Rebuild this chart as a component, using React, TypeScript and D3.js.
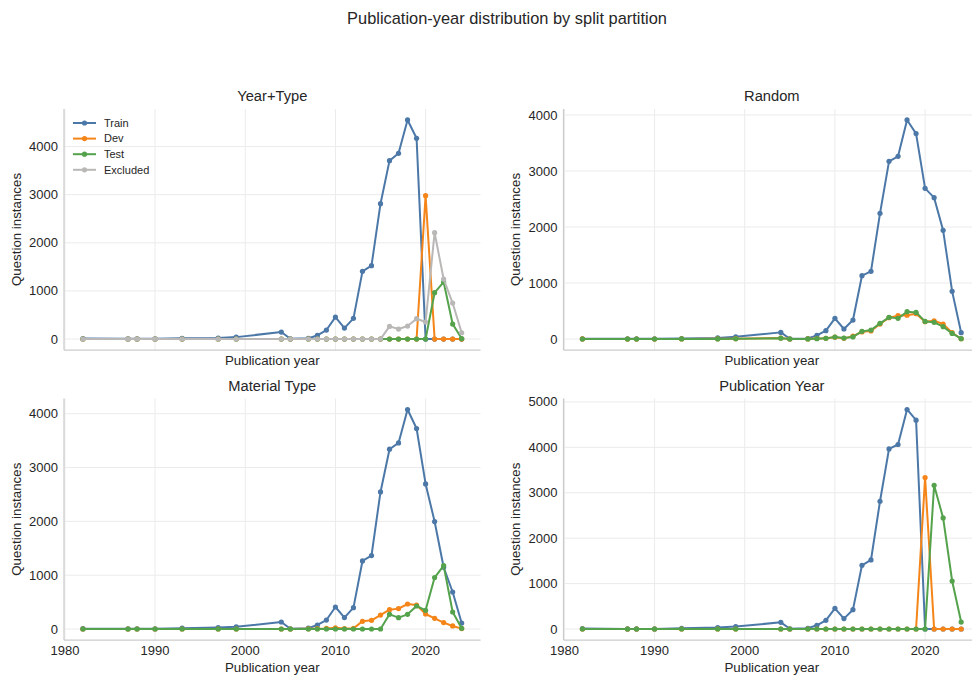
import React, { useRef, useEffect } from 'react';
import * as d3 from 'd3';

const years = [1982, 1987, 1988, 1990, 1993, 1997, 1999, 2004, 2005, 2007, 2008, 2009, 2010, 2011, 2012, 2013, 2014, 2015, 2016, 2017, 2018, 2019, 2020, 2021, 2022, 2023, 2024];
const xTicks = [1980, 1990, 2000, 2010, 2020];
const seriesNames = ['Train', 'Dev', 'Test', 'Excluded'];
const seriesColors = ['#4c78a8', '#f58518', '#54a24b', '#bab8b6'];

// Year+Type split
const ytTrain = [10, 5, 5, 5, 15, 20, 40, 145, 5, 15, 75, 187, 457, 228, 430, 1407, 1524, 2813, 3707, 3860, 4553, 4172, 0, 0, 0, 0, 0];
const ytDev = [0, 0, 0, 0, 0, 0, 0, 0, 0, 0, 0, 0, 0, 0, 0, 0, 0, 0, 0, 0, 0, 0, 2980, 0, 0, 0, 0];
const ytTest = [0, 0, 0, 0, 0, 0, 0, 0, 0, 0, 0, 0, 0, 0, 0, 0, 0, 0, 0, 0, 0, 0, 0, 963, 1185, 312, 10];
const ytExcluded = [0, 0, 0, 0, 0, 0, 0, 0, 0, 0, 0, 0, 0, 0, 0, 0, 0, 0, 263, 208, 270, 423, 353, 2210, 1247, 748, 131];

// Random split
const rndTrain = [5, 5, 5, 5, 10, 20, 40, 119, 5, 10, 65, 149, 369, 179, 339, 1131, 1208, 2244, 3173, 3262, 3911, 3667, 2690, 2524, 1940, 851, 113];
const rndDev = [2, 0, 0, 0, 3, 4, 6, 18, 0, 3, 10, 14, 34, 12, 52, 128, 145, 268, 381, 417, 425, 452, 309, 327, 268, 113, 5];
const rndTest = [1, 1, 1, 1, 2, 3, 5, 15, 1, 2, 6, 12, 36, 18, 38, 137, 161, 280, 387, 369, 488, 476, 315, 298, 220, 101, 6];

// Material Type split
const matTrain = [7, 5, 5, 5, 15, 28, 40, 130, 5, 15, 75, 167, 409, 212, 397, 1264, 1364, 2546, 3340, 3457, 4078, 3725, 2695, 1996, 1147, 688, 111];
const matDev = [0, 0, 0, 0, 0, 0, 0, 0, 0, 3, 6, 12, 22, 8, 12, 143, 161, 260, 360, 379, 465, 446, 279, 199, 119, 57, 8];
const matTest = [0, 0, 0, 0, 0, 0, 0, 0, 0, 0, 0, 0, 0, 0, 0, 0, 0, 0, 273, 211, 273, 428, 347, 956, 1178, 316, 13];

// Publication Year split
const pyTrain = [9, 2, 2, 2, 16, 31, 53, 147, 5, 16, 82, 192, 455, 229, 426, 1403, 1520, 2813, 3965, 4062, 4833, 4597, 0, 0, 0, 0, 0];
const pyDev = [0, 0, 0, 0, 0, 0, 0, 0, 0, 0, 0, 0, 0, 0, 0, 0, 0, 0, 0, 0, 0, 0, 3335, 0, 0, 0, 0];
const pyTest = [0, 0, 0, 0, 0, 0, 0, 0, 0, 0, 0, 0, 0, 0, 0, 0, 0, 0, 0, 0, 0, 0, 0, 3165, 2445, 1057, 154];

const panels = [
  { title: 'Year+Type', series: [ytTrain, ytDev, ytTest, ytExcluded], col: 0, row: 0, legend: true, xLabels: false },
  { title: 'Random', series: [rndTrain, rndDev, rndTest], col: 1, row: 0, legend: false, xLabels: false },
  { title: 'Material Type', series: [matTrain, matDev, matTest], col: 0, row: 1, legend: false, xLabels: true },
  { title: 'Publication Year', series: [pyTrain, pyDev, pyTest], col: 1, row: 1, legend: false, xLabels: true },
];

const width = 972;
const height = 675;
const font = '"Liberation Sans", Arial, sans-serif';
const colX = [[64, 480.6], [563.5, 980.1]];
const rowY = [[350, 109], [640, 398.5]];

const App = () => {
  const ref = useRef<SVGSVGElement | null>(null);

  useEffect(() => {
    if (!ref.current) return;
    const svg = d3.select(ref.current);
    svg.selectAll('*').remove();

    svg.append('rect').attr('width', width).attr('height', height).attr('fill', '#fff');

    // suptitle is centred on the uncropped figure, a bit right of the image centre
    svg.append('text')
      .attr('x', 507).attr('y', 18).attr('dy', '0.35em')
      .attr('text-anchor', 'middle')
      .style('font-family', font).style('font-size', '16.4px').attr('fill', '#262626')
      .text('Publication-year distribution by split partition');

    panels.forEach(p => {
      const [xl, xr] = colX[p.col];
      const [yb, yt] = rowY[p.row];
      const x = d3.scaleLinear().domain([1979.9, 2026.1]).range([xl, xr]);
      const maxV = d3.max(p.series, s => d3.max(s)) as number;
      const y = d3.scaleLinear().domain([-0.05 * maxV, 1.05 * maxV]).range([yb, yt]);
      const g = svg.append('g');

      // grid
      g.selectAll('.vg').data(xTicks).enter().append('line')
        .attr('x1', d => x(d)).attr('x2', d => x(d)).attr('y1', yb).attr('y2', yt)
        .attr('stroke', '#ebebeb').attr('stroke-width', 1);
      const yTicks = y.ticks(5).filter(t => t >= 0);
      g.selectAll('.hg').data(yTicks).enter().append('line')
        .attr('x1', xl).attr('x2', xr).attr('y1', d => y(d)).attr('y2', d => y(d))
        .attr('stroke', '#ebebeb').attr('stroke-width', 1);

      // spines
      g.append('line').attr('x1', xl).attr('x2', xl).attr('y1', yb).attr('y2', yt)
        .attr('stroke', '#cccccc').attr('stroke-width', 1.25);
      g.append('line').attr('x1', xl).attr('x2', xr).attr('y1', yb).attr('y2', yb)
        .attr('stroke', '#cccccc').attr('stroke-width', 1.25);

      // y tick labels
      g.selectAll('.yl').data(yTicks).enter().append('text')
        .attr('x', xl - 6).attr('y', d => y(d)).attr('dy', '0.35em')
        .attr('text-anchor', 'end')
        .style('font-family', font).style('font-size', '13px').attr('fill', '#262626')
        .text(d => String(d));

      if (p.xLabels) {
        g.selectAll('.xl').data(xTicks).enter().append('text')
          .attr('x', d => x(d)).attr('y', yb + 10.5).attr('dy', '0.35em')
          .attr('text-anchor', 'middle')
          .style('font-family', font).style('font-size', '13px').attr('fill', '#262626')
          .text(d => String(d));
      }

      g.append('text')
        .attr('x', (xl + xr) / 2).attr('y', p.xLabels ? yb + 27.5 : yb + 10.5).attr('dy', '0.35em')
        .attr('text-anchor', 'middle')
        .style('font-family', font).style('font-size', '13.3px').attr('fill', '#262626')
        .text('Publication year');

      g.append('text')
        .attr('transform', `translate(${xl - 48},${(yb + yt) / 2}) rotate(-90)`)
        .attr('dy', '0.35em').attr('text-anchor', 'middle')
        .style('font-family', font).style('font-size', '13.3px').attr('fill', '#262626')
        .text('Question instances');

      g.append('text')
        .attr('x', (xl + xr) / 2).attr('y', yt - 13).attr('dy', '0.35em')
        .attr('text-anchor', 'middle')
        .style('font-family', font).style('font-size', '14.7px').attr('fill', '#262626')
        .text(p.title);

      const line = d3.line<number>().x((_, i) => x(years[i])).y(d => y(d));
      p.series.forEach((s, si) => {
        g.append('path').datum(s)
          .attr('d', line).attr('fill', 'none')
          .attr('stroke', seriesColors[si]).attr('stroke-width', 2)
          .attr('stroke-linejoin', 'round');
        g.selectAll(null).data(s).enter().append('circle')
          .attr('cx', (_, i) => x(years[i])).attr('cy', d => y(d)).attr('r', 2.6)
          .attr('fill', seriesColors[si]);
      });

      if (p.legend) {
        seriesNames.forEach((name, i) => {
          const ly = 123 + i * 15.6;
          g.append('line').attr('x1', 73).attr('x2', 96).attr('y1', ly).attr('y2', ly)
            .attr('stroke', seriesColors[i]).attr('stroke-width', 2);
          g.append('circle').attr('cx', 84.5).attr('cy', ly).attr('r', 2.6).attr('fill', seriesColors[i]);
          g.append('text').attr('x', 104).attr('y', ly).attr('dy', '0.35em')
            .style('font-family', font).style('font-size', '11px').attr('fill', '#262626')
            .text(name);
        });
      }
    });
  }, []);

  return (
    <svg ref={ref} width={width} height={height}
      style={{ position: 'absolute', left: 0, top: 0, display: 'block' }} />
  );
};

export default App;
